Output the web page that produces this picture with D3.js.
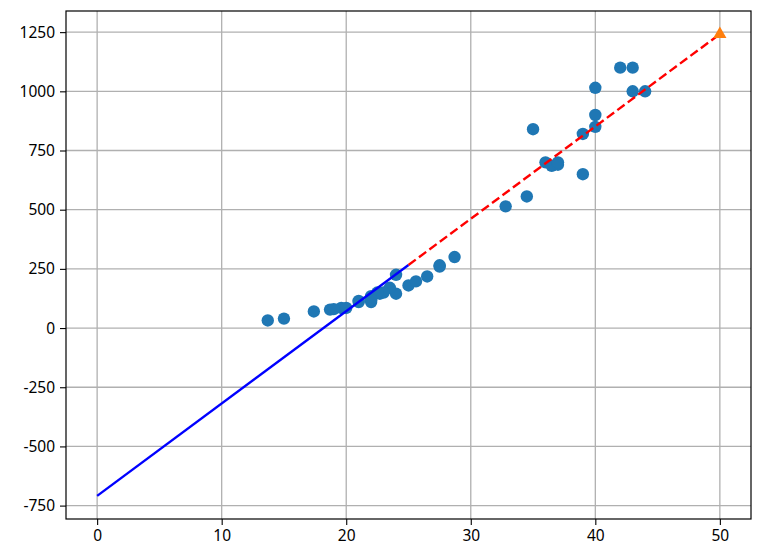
<!DOCTYPE html>
<html>
<head>
<meta charset="utf-8">
<script src="https://cdn.jsdelivr.net/npm/d3@7"></script>
<style>
  html, body { margin: 0; padding: 0; background: #fff; }
  svg { display: block; }
  .tick text { font-family: "Noto Sans", "DejaVu Sans", sans-serif; font-size: 15.5px; fill: #000; }
</style>
</head>
<body>
<svg id="chart" width="757" height="560"></svg>
<script>
// training data: perch length (cm) and weight (g)
const trainLength = [19.6, 22.0, 18.7, 17.4, 36.0, 25.0, 40.0, 39.0, 43.0, 22.0,
                     20.0, 22.0, 24.0, 27.5, 43.0, 40.0, 24.0, 21.0, 27.5, 40.0,
                     32.8, 26.5, 36.5, 13.7, 22.7, 15.0, 37.0, 35.0, 28.7, 23.5,
                     39.0, 21.0, 23.0, 22.0, 44.0, 22.5, 19.0, 37.0, 22.0, 25.6,
                     42.0, 34.5];
const trainWeight = [85.0, 135.0, 78.0, 70.0, 700.0, 180.0, 850.0, 820.0, 1000.0, 120.0,
                     85.0, 130.0, 225.0, 260.0, 1100.0, 900.0, 145.0, 115.0, 265.0, 1015.0,
                     514.0, 218.0, 685.0, 32.0, 145.0, 40.0, 690.0, 840.0, 300.0, 170.0,
                     650.0, 110.0, 150.0, 110.0, 1000.0, 150.0, 80.0, 700.0, 120.0, 197.0,
                     1100.0, 556.0];
// fitted regression line, solid part and dashed part
const solidX = [0, 25];
const solidY = [-709.0, 266.4];
const dashX = [25, 50];
const dashY = [266.4, 1241.8];
// prediction for length 50
const predX = [50];
const predY = [1241.8];
// ticks
const xTicks = [0, 10, 20, 30, 40, 50];
const yTicks = [-750, -500, -250, 0, 250, 500, 750, 1000, 1250];

const svg = d3.select("#chart");
const L = 66, R = 751, T = 11, B = 519;

const x = d3.scaleLinear().domain([-2.5, 52.5]).range([L, R]);
const y = d3.scaleLinear().domain([-806.6, 1339.3]).range([B, T]);

// grid
const g = svg.append("g");
g.selectAll("line.gx").data(xTicks).enter().append("line")
  .attr("x1", d => x(d)).attr("x2", d => x(d)).attr("y1", T).attr("y2", B)
  .attr("stroke", "#b0b0b0").attr("stroke-width", 1.3);
g.selectAll("line.gy").data(yTicks).enter().append("line")
  .attr("y1", d => y(d)).attr("y2", d => y(d)).attr("x1", L).attr("x2", R)
  .attr("stroke", "#b0b0b0").attr("stroke-width", 1.3);

// scatter
const pts = trainLength.map((l, i) => [l, trainWeight[i]]);
svg.append("g").selectAll("circle").data(pts).enter().append("circle")
  .attr("cx", d => x(d[0])).attr("cy", d => y(d[1])).attr("r", 6.2)
  .attr("fill", "#1f77b4");

// lines
const line = d3.line().x(d => x(d[0])).y(d => y(d[1]));
svg.append("path").datum(solidX.map((v, i) => [v, solidY[i]]))
  .attr("d", line).attr("fill", "none").attr("stroke", "#0000ff").attr("stroke-width", 2.4);
svg.append("path").datum(dashX.map((v, i) => [v, dashY[i]]))
  .attr("d", line).attr("fill", "none").attr("stroke", "#ff0000").attr("stroke-width", 2.4)
  .attr("stroke-dasharray", "9,4");

// triangle prediction
const tri = d3.symbol().type(d3.symbolTriangle).size(75);
svg.append("g").selectAll("path").data(predX.map((v, i) => [v, predY[i]])).enter().append("path")
  .attr("d", tri).attr("transform", d => `translate(${x(d[0])},${y(d[1])})`)
  .attr("fill", "#ff7f0e");

// axes (plain hyphen minus, as in the reference)
const fmt = d => String(d);
const xAxis = d3.axisBottom(x).tickValues(xTicks).tickSize(6).tickPadding(5).tickFormat(fmt);
const yAxis = d3.axisLeft(y).tickValues(yTicks).tickSize(6).tickPadding(5).tickFormat(fmt);
const gx = svg.append("g").attr("transform", `translate(0,${B})`).call(xAxis);
const gy = svg.append("g").attr("transform", `translate(${L},0)`).call(yAxis);
[gx, gy].forEach(a => {
  a.select(".domain").remove();
  a.selectAll(".tick line").attr("stroke", "#000").attr("stroke-width", 1.1);
});

// frame
svg.append("rect").attr("x", L).attr("y", T).attr("width", R - L).attr("height", B - T)
  .attr("fill", "none").attr("stroke", "#000").attr("stroke-width", 1.2);
</script>
</body>
</html>
